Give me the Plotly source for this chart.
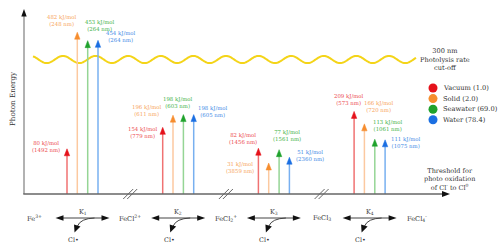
import numpy as np
import plotly.graph_objects as go

# ---------------- data ----------------
series = ["Vacuum (1.0)", "Solid (2.0)", "Seawater (69.0)", "Water (78.4)"]
species = ["Fe<sup>3+</sup>", "FeCl<sup>2+</sup>", "FeCl<sub>2</sub><sup>+</sup>",
           "FeCl<sub>3</sub>", "FeCl<sub>4</sub><sup>-</sup>"]
constants = ["K<sub>1</sub>", "K<sub>2</sub>", "K<sub>3</sub>", "K<sub>4</sub>"]

vacuum_kj = [80, 154, 82, 209]
solid_kj = [482, 196, 31, 166]
seawater_kj = [453, 198, 77, 113]
water_kj = [454, 198, 51, 111]

vacuum_nm = [1492, 779, 1456, 573]
solid_nm = [248, 611, 3859, 720]
seawater_nm = [264, 603, 1561, 1061]
water_nm = [264, 605, 2360, 1075]

energies = [vacuum_kj, solid_kj, seawater_kj, water_kj]
wavelengths = [vacuum_nm, solid_nm, seawater_nm, water_nm]

# ---------------- styles / layout ----------------
head_cols = ["#e5121b", "#f68d2e", "#1fa22c", "#1b6fe2"]
line_cols = ["#f07272", "#fcc9a0", "#95d595", "#78b0f0"]
text_cols = ["#ec4a4f", "#f7a55c", "#43b247", "#3f8ae6"]
FONT = "DejaVu Serif"
DARK = "#333333"

W, H = 500, 251
BASE_PX = 194          # pixel row of the baseline
PX_PER_E = 0.29        # pixels per kJ/mol (schematic scale)
BASE_E = -22 / PX_PER_E
E_BOTTOM = BASE_E - (H - BASE_PX) / PX_PER_E
E_TOP = BASE_E + BASE_PX / PX_PER_E

G0, GSTEP = 82.5, 95.7           # group centres
SOFF = [-15.5, -5.2, 5.2, 15.5]  # series offsets inside a group
HEAD_LEN, HEAD_HW = 7, 2.7

# label offsets (px) relative to arrow tip: (dx, dy down)
lab_off = [
    [(-21, -2), (-20, 5), (-15, -9.5), (-5, -11.5)],
    [(-15, -11.5), (-26, -4.5), (-29, 4.5), (15, -17.5)],
    [(12, -15.5), (-5, -12.5), (8, -14), (13, -14)],
    [(23, -4), (19, -3), (21, -2), (21, 2.5)],
]

fig = go.Figure()
shapes = []
annotations = []

# wavy cut-off line (decoration)
wx = np.arange(33, 416.5, 1.0)
wy = 59.5 - 3.6 * np.cos(2 * np.pi * (wx - 63) / 32.6)
wpath = "M " + " L ".join(f"{a:.1f},{b:.2f}" for a, b in zip(wx, wy))
shapes.append(dict(type="path", path=wpath, xref="x", yref="y2",
                   line=dict(color="#f4d418", width=2), layer="below"))

# axes
shapes.append(dict(type="line", xref="x", yref="y2", x0=24, x1=24, y0=BASE_PX, y1=15,
                   line=dict(color="#999999", width=1.5)))
shapes.append(dict(type="path", xref="x", yref="y2", path="M 21.3,16.5 L 24,9 L 26.7,16.5 Z",
                   fillcolor="#111111", line=dict(width=0)))
shapes.append(dict(type="line", xref="x", yref="y2", x0=23.3, x1=443, y0=BASE_PX, y1=BASE_PX,
                   line=dict(color="#666666", width=1.5)))
shapes.append(dict(type="path", xref="x", yref="y2", path="M 442,191 L 450,194 L 442,197 Z",
                   fillcolor="#111111", line=dict(width=0)))

# arrows
for s in range(4):
    for g in range(4):
        x = G0 + GSTEP * g + SOFF[s]
        e = energies[s][g]
        fig.add_trace(go.Scatter(x=[x, x], y=[BASE_E, e - HEAD_LEN / PX_PER_E / 2],
                                 mode="lines", line=dict(color=line_cols[s], width=1.5),
                                 hoverinfo="skip"))
        eb = e - HEAD_LEN / PX_PER_E
        fig.add_trace(go.Scatter(x=[x - HEAD_HW, x, x + HEAD_HW, x - HEAD_HW],
                                 y=[eb, e, eb, eb], mode="lines", fill="toself",
                                 fillcolor=head_cols[s], line=dict(color=head_cols[s], width=0.5),
                                 hoverinfo="skip"))
        dx, dy = lab_off[s][g]
        annotations.append(dict(x=x, y=e, xref="x", yref="y", xshift=dx, yshift=-dy,
                                text=f"{e} kJ/mol<br>({wavelengths[s][g]} nm)",
                                showarrow=False, xanchor="center", yanchor="middle",
                                font=dict(family=FONT, size=5.4, color=text_cols[s])))

# axis break marks
for i in range(1, 4):
    bx = G0 - 48 + GSTEP * i
    for o in (-7, -3):
        shapes.append(dict(type="line", xref="x", yref="y2", x0=bx + o, y0=199,
                           x1=bx + o + 10, y1=189, line=dict(color="#666666", width=1)))

# reaction scheme
for i, sp in enumerate(species):
    annotations.append(dict(x=G0 - 48 + GSTEP * i, y=218, xref="x", yref="y2", text=sp,
                            showarrow=False, font=dict(family=FONT, size=6.6, color=DARK)))
for g in range(4):
    c = G0 + GSTEP * g
    shapes.append(dict(type="line", xref="x", yref="y2", x0=c - 20, x1=c + 20, y0=218, y1=218,
                       line=dict(color="#444444", width=1)))
    shapes.append(dict(type="path", xref="x", yref="y2",
                       path=f"M {c-27},218 L {c-19},215.3 L {c-19},220.7 Z",
                       fillcolor="#111111", line=dict(width=0)))
    shapes.append(dict(type="path", xref="x", yref="y2",
                       path=f"M {c+27},218 L {c+19},215.3 L {c+19},220.7 Z",
                       fillcolor="#111111", line=dict(width=0)))
    shapes.append(dict(type="path", xref="x", yref="y2",
                       path=f"M {c+12},218 Q {c-2},218.5 {c-5},226",
                       line=dict(color="#444444", width=1)))
    shapes.append(dict(type="path", xref="x", yref="y2",
                       path=f"M {c-8.5},224.5 L {c-8},232.5 L {c-2},226.5 Z",
                       fillcolor="#111111", line=dict(width=0)))
    annotations.append(dict(x=c, y=212, xref="x", yref="y2", text=constants[g],
                            showarrow=False, font=dict(family=FONT, size=6.4, color=DARK)))
    annotations.append(dict(x=c - 9, y=240, xref="x", yref="y2", text="Cl•",
                            showarrow=False, font=dict(family=FONT, size=6.4, color=DARK)))

# legend
for s in range(4):
    cy = 88 + 10.6 * s
    shapes.append(dict(type="circle", xref="x", yref="y2", x0=428.5, x1=437.5,
                       y0=cy - 4.5, y1=cy + 4.5, fillcolor=head_cols[s], line=dict(width=0)))
    annotations.append(dict(x=441, y=cy, xref="x", yref="y2", text=series[s],
                            showarrow=False, xanchor="left", yanchor="middle",
                            font=dict(family=FONT, size=6.7, color=DARK)))

# texts
annotations.append(dict(x=12, y=99, xref="x", yref="y2", text="Photon Energy", textangle=-90,
                        showarrow=False, font=dict(family=FONT, size=7.2, color=DARK)))
annotations.append(dict(x=445, y=59, xref="x", yref="y2",
                        text="300 nm<br>Photolysis rate<br>cut-off",
                        showarrow=False, font=dict(family=FONT, size=6.6, color=DARK)))
annotations.append(dict(x=449, y=179, xref="x", yref="y2",
                        text="Threshold for<br>photo oxidation<br>of Cl<sup>-</sup> to Cl<sup>0</sup>",
                        showarrow=False, font=dict(family=FONT, size=6.5, color=DARK)))

fig.update_layout(
    width=W, height=H, margin=dict(l=0, r=0, t=0, b=0),
    paper_bgcolor="white", plot_bgcolor="white", showlegend=False,
    xaxis=dict(range=[0, W], visible=False, fixedrange=True),
    yaxis=dict(range=[E_BOTTOM, E_TOP], visible=False, fixedrange=True),
    yaxis2=dict(range=[H, 0], visible=False, overlaying="y", fixedrange=True),
    shapes=shapes, annotations=annotations,
)
fig.write_html("out.html", config={"displayModeBar": False, "staticPlot": True},
               post_script="document.body.style.margin='0';document.body.style.overflow='hidden';")
